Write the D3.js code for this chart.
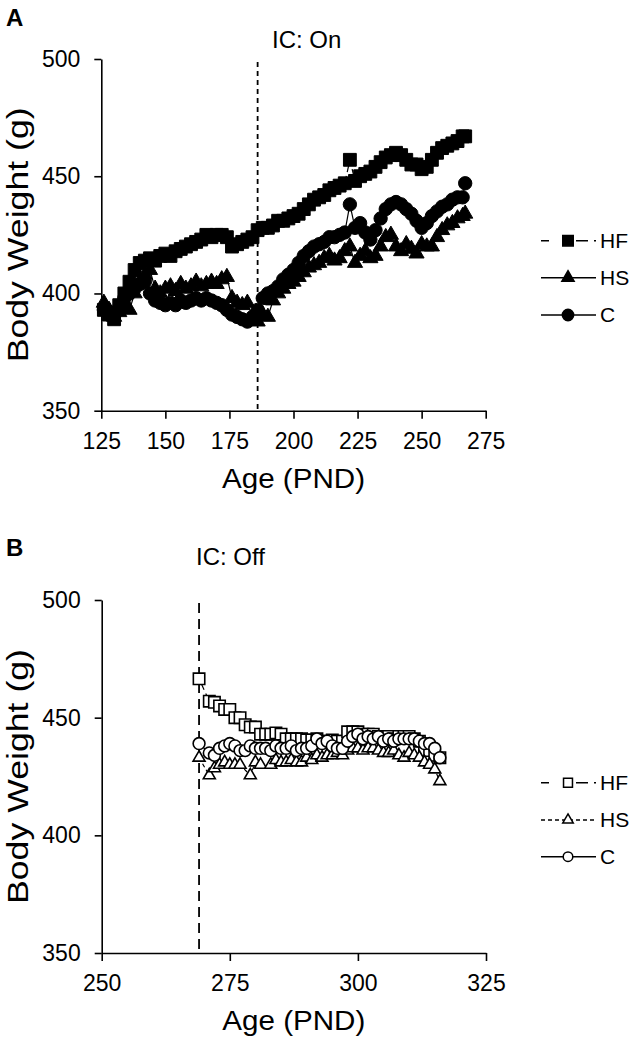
<!DOCTYPE html>
<html><head><meta charset="utf-8">
<script src="https://cdn.jsdelivr.net/npm/d3@7"></script>
<style>body{margin:0;background:#fff}svg{display:block;font-family:"Liberation Sans",Arial,sans-serif}</style>
</head><body><svg id="c" width="634" height="1040"></svg>
<script>
// ---------- Panel A data ----------
const daysA = [126,128,130,132,134,136,138,140,142,144,146,148,150,152,154,156,158,160,162,164,166,168,170,172,174,176,178,180,182,184,186,188,190,192,194,196,198,200,202,204,206,208,210,212,214,216,218,220,222,224,226,228,230,232,234,236,238,240,242,244,246,248,250,252,254,256,258,260,262,264,266,267];
const hfA = [393,391,389,395,400,405,410,413,414,415,414,416,417,416,418,419,420,421,422,423,425,424,425,425,424,420,421,422,423,424,427,428,428,429,431,431,432,433,434,436,438,440,441,442,444,445,446,447,457,448,450,451,452,454,456,458,459,460,459,457,455,455,453,454,457,460,462,463,464,465,467,467];
const hsA = [396,393,390,392,395,393,400,405,408,410,402,400,402,403,401,404,402,403,405,403,404,405,404,406,407,398,396,395,396,390,388,391,390,397,400,402,404,405,407,409,411,412,413,415,416,414,415,418,420,413,416,418,415,416,420,424,425,420,418,421,419,417,421,420,420,424,427,429,430,432,433,434];
const cA  = [393,392,391,394,398,400,402,404,405,400,397,396,395,396,395,397,396,397,398,397,398,397,396,395,393,391,390,389,388,390,393,398,400,401,403,406,408,410,413,416,418,420,421,422,424,424,425,426,438,428,430,426,423,427,432,436,438,439,438,436,434,431,428,430,433,435,437,438,440,441,441,447];
// ---------- Panel B data ----------
const daysBhf = [269,271,272,273,274,275,276,277,278,279,280,281,282,283,284,285,286,287,288,289,290,291,292,293,294,295,296,297,298,299,300,301,302,303,304,305,306,307,308,309,310,311,312,313,314,315,316];
const hfB = [466.5,457,456.5,455,453.5,453.5,450,450,447,446,446,443,443,443,443.5,443,441,441,441,441,440.5,440.5,441,440,440,440.5,440,440,444,444,444,443,443,443,442,442,442,441,442,442,442,441,440,436,436,434,433];
const daysBc = [269,271,272,273,274,275,276,277,278,279,280,281,282,283,284,285,286,287,288,289,290,291,292,293,294,295,296,297,298,299,300,301,302,303,304,305,306,307,308,309,310,311,312,313,314,315,316];
const cB = [439,435,434,437,438,439,438,436,436,438,437,437,437,436,438,437,437,438,436,437,437,438,441,439,440,438,437,437,440,442,443,441,442,441,442,440,441,440,441,441,441,441,440,439,439,437,433];
const daysBhs = [269,271,272,273,274,275,276,277,279,280,281,283,284,285,286,287,288,289,290,291,292,293,294,295,296,297,298,299,300,301,302,303,304,305,306,307,308,309,310,311,312,313,314,315,316];
const hsB = [433,425.5,428.5,430,431,430,430,430,425.5,431,430,430,432,431,431,432,431,431,433,432,434,433,434,434,435,434,436,437,437,436,437,437,436,435,435,436,434,433,435,434,433,431,430,428,423];
// ---------- labels / ticks ----------
const seriesNames = ["HF","HS","C"];
const yTicks = [350,400,450,500];
const xTicksA = [125,150,175,200,225,250,275];
const xTicksB = [250,275,300,325];
const icOnDay = 186, icOffDay = 269;

const svg = d3.select("#c");
const FONT = '"Liberation Sans",Arial,sans-serif';

function panel(opt){
  const g = svg.append("g");
  const x = d3.scaleLinear().domain(opt.xdom).range(opt.xr);
  const y = d3.scaleLinear().domain([350,500]).range(opt.yr);
  const ax = g.append("g").attr("transform",`translate(0,${opt.yr[0]})`)
    .call(d3.axisBottom(x).tickValues(opt.xticks).tickSize(8).tickSizeOuter(0).tickPadding(14).tickFormat(d3.format("d")));
  const ay = g.append("g").attr("transform",`translate(${opt.xr[0]},0)`)
    .call(d3.axisLeft(y).tickValues(yTicks).tickSize(7).tickSizeOuter(0).tickPadding(14).tickFormat(d3.format("d")));
  [ax,ay].forEach(a=>{
    a.selectAll("path,line").attr("stroke","#000").attr("stroke-width",1.6);
    a.selectAll("text").attr("fill","#000").style("font-size","23px").style("font-family",FONT);
  });
  g.append("text").attr("x",(opt.xr[0]+opt.xr[1])/2).attr("y",opt.xlabY).attr("text-anchor","middle")
    .style("font-size","28px").attr("textLength",143).attr("lengthAdjust","spacingAndGlyphs").text("Age (PND)");
  g.append("text").attr("transform",`translate(${opt.ylabX},${(opt.yr[0]+opt.yr[1])/2}) rotate(-90)`)
    .attr("text-anchor","middle").attr("dy","0.35em").style("font-size","29px")
    .attr("textLength",255).attr("lengthAdjust","spacingAndGlyphs").text("Body Weight (g)");
  g.append("text").attr("x",6).attr("y",opt.panelY).style("font-size","24px").style("font-weight","bold").text(opt.panel);
  g.append("line").attr("x1",x(opt.icDay)).attr("x2",x(opt.icDay)).attr("y1",opt.icTop).attr("y2",opt.yr[0])
    .attr("stroke","#000").attr("stroke-width",opt.icW).attr("stroke-dasharray",opt.icDash);
  g.append("text").attr("x",opt.icTextX).attr("y",opt.icTextY).style("font-size","24px").text(opt.icText);
  const syms = [d3.symbolSquare,d3.symbolTriangle,d3.symbolCircle];
  opt.series.forEach((s,i)=>{
    const pts = s.days.map((d,j)=>[d,s.vals[j]]);
    g.append("path").datum(pts).attr("fill","none").attr("stroke","#000").attr("stroke-width",1.2)
      .attr("stroke-dasharray",s.dash||null)
      .attr("d",d3.line().x(d=>x(d[0])).y(d=>y(d[1])));
  });
  opt.series.forEach((s,i)=>{
    const pts = s.days.map((d,j)=>[d,s.vals[j]]);
    const sym = d3.symbol().type(syms[i]).size(opt.symSizes[i]);
    g.append("g").selectAll("path").data(pts).join("path")
      .attr("transform",d=>`translate(${x(d[0])},${y(d[1])})`)
      .attr("d",sym)
      .attr("fill",opt.filled?"#000":"#fff").attr("stroke","#000").attr("stroke-width",opt.filled?1:1.6);
  });
  const lg = g.append("g");
  seriesNames.forEach((n,i)=>{
    const ly = opt.legY[i];
    lg.append("line").attr("x1",541).attr("x2",596).attr("y1",ly).attr("y2",ly)
      .attr("stroke","#000").attr("stroke-width",1.6).attr("stroke-dasharray",opt.legDash[i]);
    lg.append("path").attr("transform",`translate(568,${ly})`)
      .attr("d",d3.symbol().type(syms[i]).size(opt.legSizes[i]))
      .attr("fill",opt.filled?"#000":"#fff").attr("stroke","#000").attr("stroke-width",1.5);
    lg.append("text").attr("x",600).attr("y",ly).attr("dy","0.35em").style("font-size","21px").text(n);
  });
}

panel({
  panel:"A", panelY:26, xdom:[125,275], xr:[101.3,485.7], yr:[410.7,59], xticks:xTicksA,
  xlabY:488, ylabX:18, icDay:icOnDay, icTop:62, icW:1.8, icDash:"5,4", icText:"IC: On", icTextX:272, icTextY:48,
  filled:true, symSizes:[165,100,140], legSizes:[110,65,100],
  legY:[240.7,277.7,315],
  legDash:["8,27,12,6,2,100",null,null],
  series:[{days:daysA,vals:hfA,dash:"12,4,2,4"},{days:daysA,vals:hsA},{days:daysA,vals:cA}]
});
panel({
  panel:"B", panelY:556, xdom:[250,325], xr:[101.7,486], yr:[953,600], xticks:xTicksB,
  xlabY:1030, ylabX:18, icDay:icOffDay, icTop:603, icW:1.8, icDash:"10,6", icText:"IC: Off", icTextX:196, icTextY:565,
  filled:false, symSizes:[130,62,110], legSizes:[80,48,72],
  legY:[782.7,820,856.7],
  legDash:["8,27,12,6,2,100","4,3",null],
  series:[{days:daysBhf,vals:hfB,dash:"12,4,2,4"},{days:daysBhs,vals:hsB,dash:"4,3"},{days:daysBc,vals:cB}]
});
svg.selectAll("text").style("font-family",FONT).attr("fill","#000");
</script></body></html>
